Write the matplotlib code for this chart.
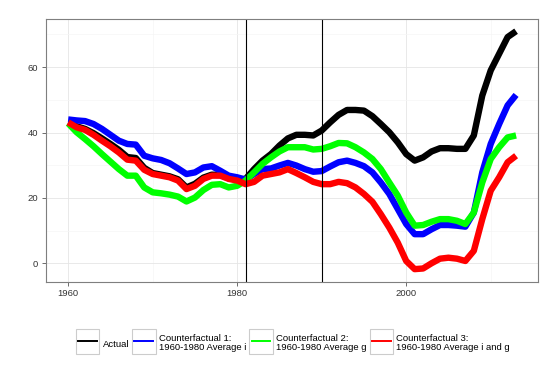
import numpy as np
import matplotlib
matplotlib.use('Agg')
import matplotlib.pyplot as plt
from matplotlib.legend_handler import HandlerLine2D
from matplotlib.lines import Line2D
from matplotlib.patches import Rectangle

plt.rcParams['font.family'] = ['Liberation Sans', 'DejaVu Sans']

years = list(range(1960, 2014))

actual = [43.0, 41.9, 41.1, 39.8, 38.2, 36.5, 34.7, 32.5, 32.2, 29.2,
          27.6, 27.1, 26.6, 25.7, 23.2, 24.3, 26.2, 27.1, 27.0, 26.0,
          25.6, 25.8, 28.8, 31.4, 33.4, 36.0, 38.2, 39.3, 39.3, 39.1,
          40.6, 43.1, 45.4, 46.9, 46.9, 46.7, 45.0, 42.6, 40.1, 37.0,
          33.4, 31.4, 32.4, 34.2, 35.2, 35.2, 35.0, 35.0, 39.1, 51.3,
          59.0, 64.1, 69.2, 71.0]

cf1 = [44.0, 43.7, 43.5, 42.6, 41.1, 39.3, 37.5, 36.5, 36.3, 32.9,
       32.1, 31.6, 30.6, 29.0, 27.3, 27.8, 29.3, 29.7, 28.3, 26.8,
       26.3, 25.6, 27.3, 28.8, 29.0, 29.9, 30.7, 29.9, 28.8, 28.0,
       28.2, 29.6, 30.9, 31.4, 30.7, 29.7, 27.8, 24.7, 21.2, 16.6,
       12.0, 8.9, 8.9, 10.4, 11.7, 11.7, 11.5, 11.2, 15.5, 27.8,
       36.5, 42.6, 48.3, 51.5]

cf2 = [42.8, 40.1, 38.0, 35.8, 33.4, 31.1, 28.8, 26.8, 26.8, 23.2,
       21.7, 21.4, 21.0, 20.4, 18.9, 20.1, 22.4, 24.0, 24.2, 23.2,
       23.7, 25.3, 27.8, 30.4, 32.4, 34.2, 35.5, 35.5, 35.5, 34.8,
       35.0, 35.8, 36.8, 36.7, 35.5, 33.9, 31.9, 28.8, 24.7, 20.7,
       15.5, 11.5, 11.7, 12.7, 13.5, 13.5, 13.0, 12.0, 15.5, 24.7,
       31.9, 35.5, 38.5, 39.1]

cf3 = [43.1, 41.6, 40.8, 39.3, 37.5, 35.8, 33.9, 31.7, 31.4, 28.6,
       27.3, 26.8, 26.3, 25.3, 22.7, 23.7, 25.8, 26.8, 26.8, 25.8,
       25.3, 24.2, 24.9, 26.8, 27.3, 27.8, 28.8, 27.6, 26.3, 24.9,
       24.2, 24.2, 24.9, 24.5, 23.2, 21.2, 18.8, 15.0, 10.9, 6.3,
       0.7, -1.8, -1.6, 0.0, 1.4, 1.7, 1.4, 0.7, 3.8, 13.5,
       22.2, 26.3, 30.9, 32.9]

labels = ['Actual',
          'Counterfactual 1:\n1960-1980 Average i',
          'Counterfactual 2:\n1960-1980 Average g',
          'Counterfactual 3:\n1960-1980 Average i and g']
colors = ['black', '#0000FF', '#00FF00', '#FF0000']
breaks = [1981, 1990]


class BoxedLine(HandlerLine2D):
  # ggplot-style legend key: grey framed box behind a short line
  def create_artists(self, legend, orig_handle, xdescent, ydescent,
                     width, height, fontsize, trans):
    arts = super().create_artists(legend, orig_handle, xdescent, ydescent,
                                  width, height, fontsize, trans)
    yc = (height - ydescent) / 2
    box = Rectangle((-xdescent - 1.6, yc - 9.0), width + 3.2, 18.0,
                    facecolor='white', edgecolor='#CCCCCC', lw=0.8,
                    transform=trans)
    return [box] + arts


def plot_chart():
  fig = plt.figure(figsize=(5.58, 3.81), dpi=100)
  ax = fig.add_axes([0.082, 0.261, 0.883, 0.688])

  for series, c in zip([actual, cf1, cf2, cf3], colors):
    ax.plot(years, series, color=c, lw=4.6,
            solid_capstyle='butt', solid_joinstyle='round')

  for b in breaks:
    ax.axvline(b, color='black', lw=0.8)

  ax.set_xlim(1957.35, 2015.65)
  ax.set_ylim(-5.6, 74.6)
  ax.set_xticks([1960, 1980, 2000])
  ax.set_xticks([1970, 1990, 2010], minor=True)
  ax.set_yticks([0, 20, 40, 60])
  ax.set_yticks([10, 30, 50, 70], minor=True)
  ax.grid(which='major', color='#E5E5E5', lw=0.6)
  ax.grid(which='minor', color='#F5F5F5', lw=0.5)
  ax.set_axisbelow(True)
  ax.tick_params(which='major', length=3.2, width=0.6, color='#555555',
                 labelsize=6.8, labelcolor='#333333', pad=2.5)
  ax.tick_params(which='minor', length=0)
  for s in ax.spines.values():
    s.set_color('#7F7F7F')
    s.set_linewidth(0.8)

  handles = [Line2D([], [], color=c, lw=1.4) for c in colors]
  leg = fig.legend(handles, labels, loc='center', bbox_to_anchor=(0.527, 0.099),
                   ncol=4, frameon=False, fontsize=6.8,
                   handler_map={Line2D: BoxedLine()},
                   handlelength=2.0, handleheight=2.2,
                   handletextpad=0.6, columnspacing=0.55, borderpad=0)
  for t in leg.get_texts():
    t.set_linespacing(1.0)

  fig.savefig('out.png', dpi=100)


def main():
  plot_chart()


if __name__ == "__main__":
  main()
